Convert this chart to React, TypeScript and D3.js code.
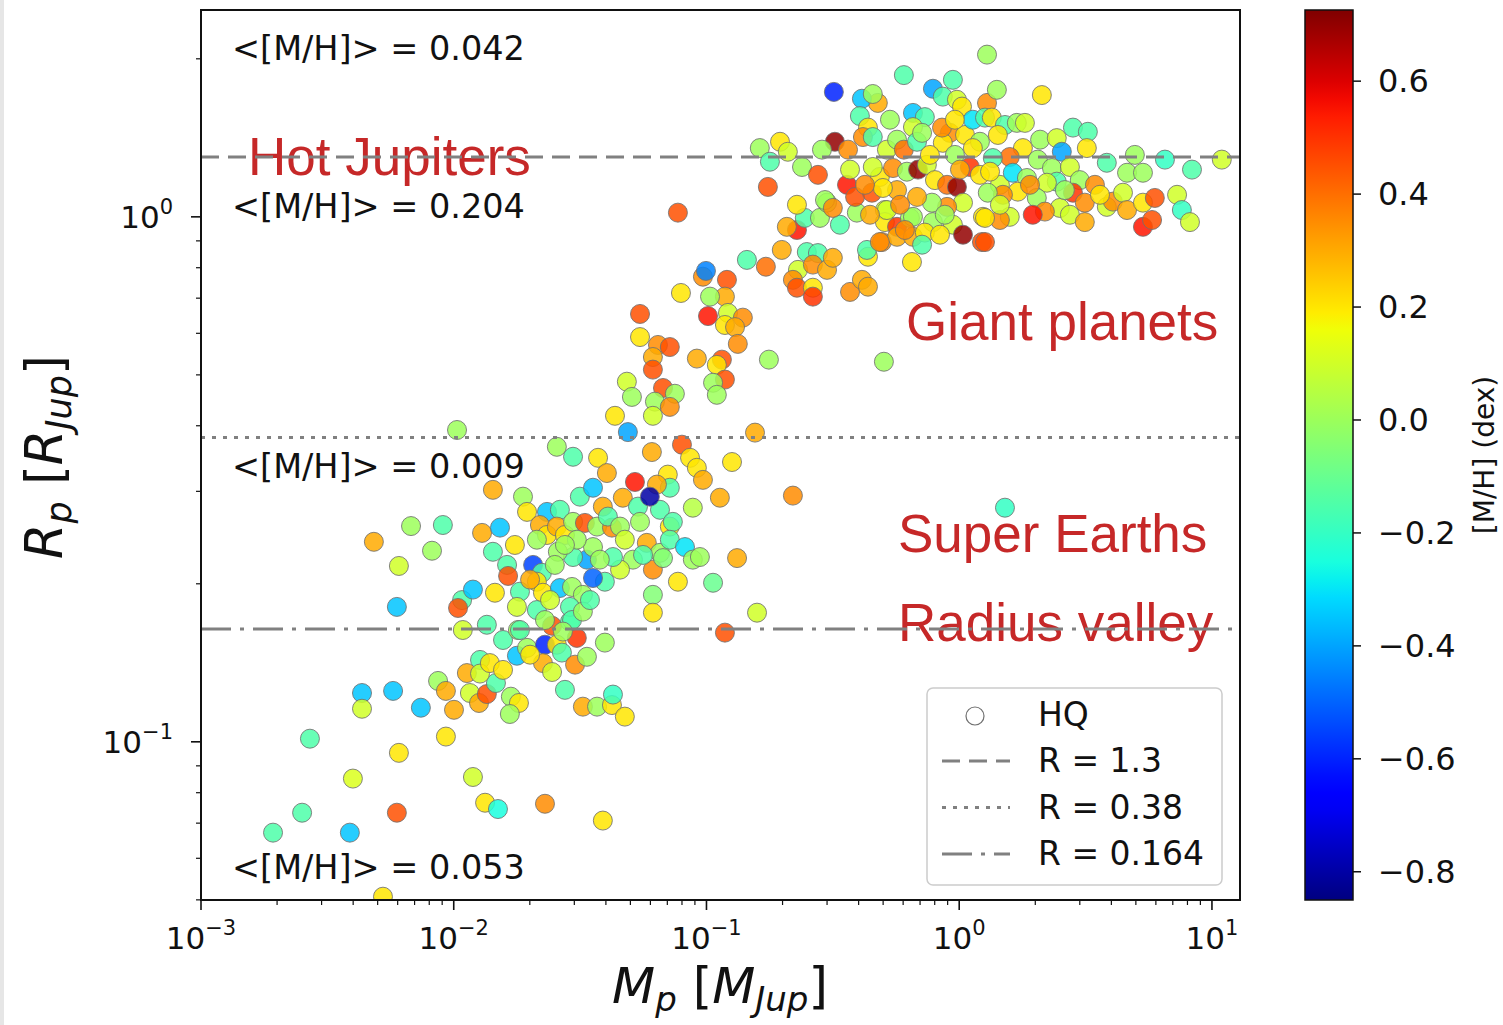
import React from "react";
import * as d3 from "d3";

// Each planet: [log10 Mp (MJup), log10 Rp (RJup), [M/H] (dex)]
const smallPlanets: [number, number, number][] = [
  [-2.363, -0.907, -0.35], [-2.363, -0.937, 0.1], [-2.24, -0.903, -0.35], [-2.13, -0.935, -0.35],
  [-2.569, -0.994, -0.15], [-2.031, -0.99, 0.2], [-2.217, -1.021, 0.2], [-2.399, -1.07, 0.12],
  [-2.6, -1.135, -0.15], [-2.715, -1.173, -0.15], [-2.411, -1.173, -0.35], [-2.225, -1.135, 0.45],
  [-1.924, -1.067, 0.1], [-1.876, -1.116, 0.2], [-1.825, -1.128, -0.25], [-1.639, -1.118, 0.35],
  [-1.41, -1.15, 0.2], [-2.28, -1.295, 0.2], [-2.062, -0.884, 0.0], [-2.031, -0.903, 0.3],
  [-1.999, -0.939, 0.3], [-1.936, -0.907, 0.1], [-1.9, -0.926, 0.3], [-1.869, -0.909, 0.45],
  [-1.833, -0.888, -0.15], [-1.774, -0.914, 0.0], [-1.742, -0.926, 0.2], [-1.778, -0.947, 0.0],
  [-1.896, -0.844, -0.15], [-1.948, -0.869, 0.3], [-1.896, -0.87, 0.1], [-1.857, -0.85, 0.2],
  [-1.805, -0.863, 0.2], [-1.75, -0.836, -0.35], [-1.805, -0.806, -0.15], [-1.71, -0.821, 0.0],
  [-1.639, -0.815, -0.6], [-1.592, -0.815, 0.2], [-1.647, -0.85, 0.3], [-1.611, -0.867, 0.1],
  [-1.572, -0.83, -0.15], [-1.52, -0.853, 0.35], [-1.513, -0.802, 0.5], [-1.473, -0.838, 0.0],
  [-1.402, -0.811, 0.0], [-1.489, -0.933, 0.3], [-1.433, -0.933, 0.0], [-1.374, -0.93, 0.2],
  [-1.37, -0.91, -0.2], [-1.323, -0.952, 0.2], [-1.964, -0.787, 0.1], [-1.869, -0.777, -0.15],
  [-1.746, -0.787, 0.0], [-1.611, -0.779, 0.45], [-1.54, -0.771, -0.15], [-2.316, -0.619, 0.3],
  [-2.169, -0.589, 0.0], [-2.043, -0.587, -0.15], [-2.086, -0.636, 0.0], [-2.217, -0.665, 0.1],
  [-2.225, -0.743, -0.35], [-1.987, -0.406, 0.0], [-1.698, -0.834, 0.2], [-1.56, -0.901, -0.15],
];

const superEarthCluster: [number, number, number][] = [
  [-1.845, -0.52, 0.3], [-1.726, -0.533, 0.0], [-1.71, -0.562, 0.2], [-1.631, -0.562, -0.35],
  [-1.58, -0.558, -0.15], [-1.659, -0.587, 0.3], [-1.631, -0.606, 0.2], [-1.592, -0.59, 0.3],
  [-1.56, -0.606, 0.2], [-1.528, -0.581, 0.0], [-1.481, -0.583, 0.45], [-1.433, -0.59, 0.0],
  [-1.374, -0.592, 0.35], [-1.501, -0.533, -0.15], [-1.449, -0.516, -0.35], [-1.41, -0.552, 0.3],
  [-1.39, -0.571, -0.15], [-1.342, -0.59, 0.0], [-1.331, -0.535, 0.3], [-1.283, -0.505, 0.55],
  [-1.271, -0.552, -0.15], [-1.184, -0.558, -0.15], [-1.153, -0.491, 0.2], [-1.145, -0.516, -0.15],
  [-1.196, -0.51, 0.3], [-1.224, -0.533, -0.8], [-1.263, -0.581, 0.0], [-1.145, -0.59, 0.2],
  [-1.133, -0.581, -0.15], [-1.236, -0.621, 0.3], [-1.184, -0.64, 0.0], [-1.145, -0.615, -0.15],
  [-1.085, -0.629, -0.3], [-1.054, -0.653, 0.0], [-1.212, -0.672, 0.35], [-1.113, -0.695, 0.2],
  [-1.212, -0.72, -0.05], [-1.212, -0.754, 0.2], [-1.291, -0.653, 0.0], [-1.342, -0.672, 0.1],
  [-1.37, -0.648, -0.15], [-1.402, -0.695, -0.15], [-1.449, -0.688, -0.5], [-1.473, -0.653, -0.4],
  [-1.449, -0.629, 0.0], [-1.528, -0.648, -0.15], [-1.513, -0.615, 0.0], [-1.588, -0.638, 0.0],
  [-1.671, -0.615, 0.0], [-1.686, -0.663, -0.55], [-1.651, -0.678, -0.15], [-1.671, -0.695, 0.2],
  [-1.647, -0.716, 0.2], [-1.738, -0.714, -0.15], [-1.75, -0.743, 0.1], [-1.671, -0.749, -0.15],
  [-1.58, -0.707, -0.35], [-1.532, -0.705, 0.0], [-1.489, -0.72, 0.0], [-1.54, -0.743, -0.15],
  [-1.532, -0.768, -0.15], [-1.738, -0.787, -0.15], [-1.789, -0.663, -0.15], [-1.785, -0.684, 0.45],
  [-1.845, -0.638, -0.15], [-1.888, -0.602, 0.3], [-1.817, -0.592, -0.35], [-1.967, -0.73, -0.15],
  [-1.983, -0.745, 0.45], [-1.924, -0.71, -0.35], [-1.837, -0.716, 0.2], [-1.568, -0.79, 0.0],
  [-1.56, -0.625, 0.0], [-1.619, -0.73, 0.1], [-1.698, -0.691, 0.3], [-1.489, -0.752, 0.0],
  [-1.6, -0.663, 0.0], [-1.461, -0.73, -0.15], [-1.323, -0.615, 0.1], [-1.422, -0.653, 0.0],
  [-1.758, -0.625, 0.2], [-1.639, -0.768, 0.0],
  [-1.311, -0.41, -0.4], [-0.808, -0.411, 0.3], [-1.592, -0.438, 0.0], [-1.528, -0.457, -0.15],
  [-1.429, -0.459, 0.2], [-1.394, -0.488, 0.3], [-1.216, -0.448, 0.3], [-1.097, -0.434, 0.45],
  [-1.065, -0.459, 0.2], [-1.038, -0.478, 0.2], [-1.014, -0.501, 0.3], [-0.899, -0.467, 0.2],
  [-0.947, -0.535, 0.3], [-1.054, -0.554, 0.05], [-0.879, -0.65, 0.3], [-0.974, -0.697, -0.1],
  [-0.8, -0.754, 0.1], [-0.927, -0.792, 0.45], [-1.026, -0.648, 0.0], [-1.172, -0.65, -0.05],
  [-1.251, -0.644, -0.15], [-0.658, -0.531, 0.35],
];

const transitionPlanets: [number, number, number][] = [
  [-1.113, 0.008, 0.45], [-1.014, -0.114, 0.35], [-1.002, -0.103, -0.45], [-0.919, -0.12, 0.45],
  [-0.927, -0.152, 0.3], [-0.986, -0.152, 0.0], [-1.101, -0.145, 0.2], [-1.263, -0.185, 0.45],
  [-0.994, -0.189, 0.55], [-0.915, -0.183, 0.1], [-0.856, -0.192, 0.35], [-0.927, -0.206, 0.2],
  [-0.887, -0.21, 0.3], [-0.876, -0.242, 0.35], [-1.263, -0.229, 0.2], [-1.192, -0.244, 0.35],
  [-1.145, -0.248, 0.45], [-1.212, -0.267, 0.3], [-1.212, -0.291, 0.45], [-1.038, -0.27, 0.3],
  [-0.939, -0.272, 0.45], [-0.959, -0.282, 0.2], [-0.927, -0.31, 0.45], [-0.974, -0.316, 0.0],
  [-0.959, -0.339, 0.0], [-0.753, -0.272, 0.0], [-0.298, -0.276, 0.0], [-1.315, -0.314, 0.1],
  [-1.295, -0.343, 0.0], [-1.172, -0.326, 0.45], [-1.125, -0.337, 0.0], [-1.204, -0.352, 0.0],
  [-1.145, -0.362, 0.35], [-1.212, -0.379, 0.1], [-1.362, -0.379, 0.2], [-0.84, -0.082, -0.15],
  [-0.765, -0.095, 0.4], [-0.702, -0.063, 0.3], [-0.638, -0.101, 0.1], [-0.603, -0.067, -0.15],
  [-0.559, -0.069, -0.15], [-0.579, -0.091, 0.35], [-0.523, -0.101, 0.3], [-0.5, -0.078, 0.3],
  [-0.658, -0.12, 0.35], [-0.642, -0.135, 0.45], [-0.579, -0.135, 0.2], [-0.579, -0.152, 0.5],
  [-0.432, -0.143, 0.35], [-0.385, -0.12, 0.3], [-0.361, -0.133, 0.3], [-0.361, -0.076, 0.2],
  [-0.365, -0.063, -0.15], [-0.306, -0.048, 0.35], [-0.405, 0.008, 0.0], [-0.294, 0.013, 0.1],
  [-0.294, -0.01, 0.2], [-0.246, -0.019, 0.5], [-0.246, -0.038, 0.3], [-0.195, -0.002, 0.0],
  [-0.187, -0.086, 0.2], [-0.183, -0.038, 0.3], [-0.642, -0.025, 0.55], [-0.682, -0.019, 0.3],
  [-0.611, -0.002, -0.15], [-0.551, -0.002, 0.0], [-0.642, 0.023, 0.2], [-0.523, 0.027, 0.0],
  [-0.472, -0.015, -0.15],
];

const giantsInner: [number, number, number][] = [
  [-0.496, 0.238, -0.6], [-0.322, 0.217, 0.3], [-0.385, 0.225, -0.35], [-0.342, 0.234, 0.0],
  [-0.219, 0.27, -0.15], [-0.104, 0.244, -0.4], [-0.025, 0.261, -0.15], [-0.065, 0.229, -0.15],
  [-0.009, 0.223, 0.1], [0.011, 0.21, 0.2], [0.11, 0.217, 0.35], [0.11, 0.309, 0.0],
  [-0.393, 0.192, -0.15], [-0.183, 0.198, -0.35], [-0.136, 0.19, -0.15], [-0.183, 0.171, 0.1],
  [-0.361, 0.17, 0.2], [-0.381, 0.152, 0.35], [-0.342, 0.152, -0.15], [-0.492, 0.143, 0.7],
  [-0.44, 0.128, 0.35], [-0.543, 0.128, 0.0], [-0.709, 0.143, 0.2], [-0.678, 0.124, 0.1],
  [-0.789, 0.131, 0.0], [-0.749, 0.105, -0.15], [-0.622, 0.095, 0.0], [-0.559, 0.08, 0.45],
  [-0.757, 0.057, 0.45], [-0.531, 0.032, 0.0], [-0.5, 0.017, 0.35], [-0.444, 0.061, 0.55],
  [-0.412, 0.038, 0.45], [-0.345, 0.046, 0.45], [-0.314, 0.076, 0.2], [-0.342, 0.095, 0.1],
  [-0.286, 0.128, 0.1], [-0.246, 0.147, 0.0], [-0.219, 0.128, 0.4], [-0.167, 0.143, -0.15],
  [-0.147, 0.16, 0.0], [-0.262, 0.093, 0.35], [-0.207, 0.086, 0.0], [-0.163, 0.09, 0.7],
  [-0.128, 0.099, 0.1], [-0.096, 0.07, 0.2], [-0.048, 0.061, 0.4], [-0.009, 0.057, 0.7],
  [0.042, 0.095, 0.5], [0.082, 0.08, 0.2], [0.015, 0.027, 0.1], [-0.048, 0.019, 0.35],
  [-0.108, 0.027, 0.0], [-0.167, 0.038, 0.3], [-0.246, 0.051, 0.3], [-0.302, 0.055, 0.2],
  [-0.286, 0.013, 0.1], [-0.183, 0.0, 0.0], [-0.104, -0.01, 0.0], [-0.136, -0.03, 0.2],
  [-0.147, -0.053, -0.15], [-0.025, -0.015, 0.1], [0.015, -0.034, 0.7], [0.09, -0.048, 0.45],
  [0.094, 0.0, 0.2], [-0.314, -0.048, 0.35], [-0.037, 0.16, 0.35], [-0.065, 0.141, 0.2],
  [0.023, 0.156, 0.2], [0.082, 0.143, 0.0], [0.054, 0.185, -0.3], [0.102, 0.189, -0.15],
  [0.054, 0.131, 0.2], [-0.068, 0.17, 0.35], [-0.017, 0.118, 0.0], [0.003, 0.09, 0.3],
  [0.161, 0.061, 0.1], [0.32, 0.147, 0.0], [-0.234, 0.023, 0.35], [-0.076, -0.034, 0.2],
  [-0.353, 0.004, 0.3], [-0.274, 0.185, 0.0], [-0.116, 0.118, 0.2], [-0.215, -0.025, 0.35],
  [-0.057, 0.004, 0.0], [-0.432, 0.09, 0.1], [-0.373, 0.061, 0.35], [-0.017, 0.185, 0.2],
];

const giantsOuter: [number, number, number][] = [
  [0.327, 0.232, 0.2], [0.149, 0.242, 0.0], [0.129, 0.189, 0.2], [0.181, 0.175, -0.15],
  [0.228, 0.179, 0.0], [0.26, 0.179, 0.1], [0.153, 0.156, 0.2], [0.252, 0.131, 0.2],
  [0.386, 0.15, 0.1], [0.45, 0.17, -0.15], [0.509, 0.162, -0.15], [0.406, 0.124, -0.4],
  [0.505, 0.131, 0.2], [0.2, 0.114, 0.4], [0.133, 0.112, -0.15], [0.311, 0.109, 0.0],
  [0.584, 0.103, -0.15], [0.695, 0.118, 0.0], [0.814, 0.109, -0.2], [1.039, 0.109, 0.1],
  [0.664, 0.084, 0.0], [0.727, 0.084, 0.0], [0.921, 0.09, -0.15], [0.122, 0.086, 0.2],
  [0.212, 0.084, -0.3], [0.268, 0.074, 0.0], [0.367, 0.093, 0.0], [0.438, 0.095, 0.1],
  [0.386, 0.067, -0.15], [0.347, 0.065, 0.1], [0.477, 0.07, 0.0], [0.537, 0.061, 0.35],
  [0.45, 0.046, 0.5], [0.497, 0.027, 0.35], [0.232, 0.048, 0.2], [0.173, 0.042, 0.35],
  [0.113, 0.046, 0.0], [0.307, 0.036, 0.0], [0.398, 0.017, 0.1], [0.339, 0.01, 0.35],
  [0.291, 0.004, 0.55], [0.2, 0.0, 0.1], [0.161, -0.006, 0.35], [0.102, -0.002, 0.2],
  [0.438, 0.004, 0.1], [0.497, -0.01, 0.3], [0.102, -0.048, 0.45], [0.584, 0.019, 0.1],
  [0.608, 0.029, 0.35], [0.648, 0.046, 0.1], [0.664, 0.013, 0.3], [0.727, 0.027, 0.2],
  [0.774, 0.036, 0.45], [0.727, -0.019, 0.55], [0.763, -0.006, 0.45], [0.862, 0.042, 0.1],
  [0.881, 0.013, -0.2], [0.913, -0.01, 0.1], [0.181, -0.554, -0.2], [0.161, 0.023, 0.1],
  [0.28, 0.061, 0.35], [0.418, 0.051, 0.0], [0.557, 0.042, 0.2],
];

const refRadii = [1.3, 0.38, 0.164];
const refDash = ["18,9", "4,7", "30,9,4,9"];
const legendLabels = ["R = 1.3", "R = 0.38", "R = 0.164"];
const meanMH = ["0.042", "0.204", "0.009", "0.053"];
const regionLabels = ["Hot Jupiters", "Giant planets", "Super Earths", "Radius valley"];
const xMajor = [-3, -2, -1, 0, 1];
const yMajor = [0, -1];
const cbarTicks = [0.6, 0.4, 0.2, 0.0, -0.2, -0.4, -0.6, -0.8];

const MH_MIN = -0.85;
const MH_MAX = 0.726;

function piece(pts: number[][], t: number) {
  for (let i = 1; i < pts.length; i++) {
    if (t <= pts[i][0]) {
      const [x0, y0] = pts[i - 1];
      const [x1, y1] = pts[i];
      return y0 + ((y1 - y0) * (t - x0)) / (x1 - x0);
    }
  }
  return pts[pts.length - 1][1];
}
function jet(t: number) {
  const tt = Math.max(0, Math.min(1, t));
  const r = piece([[0, 0], [0.35, 0], [0.66, 1], [0.89, 1], [1, 0.5]], tt);
  const g = piece([[0, 0], [0.125, 0], [0.375, 1], [0.64, 1], [0.91, 0], [1, 0]], tt);
  const b = piece([[0, 0.5], [0.11, 1], [0.34, 1], [0.65, 0], [1, 0]], tt);
  return d3.rgb(r * 255, g * 255, b * 255).formatHex();
}

const FONT = "DejaVu Sans, sans-serif";

export default function App() {
  const L = 201, R = 1240, T = 10, B = 900;
  const x = d3.scaleLog().domain([1e-3, Math.pow(10, 1.111)]).range([L, R]);
  const y = d3.scaleLog().domain([Math.pow(10, -1.3013), Math.pow(10, 0.394)]).range([B, T]);
  const norm = d3.scaleLinear().domain([MH_MIN, MH_MAX]).range([0, 1]).clamp(true);
  const cbX = 1305, cbW = 48;
  const cy = d3.scaleLinear().domain([MH_MIN, MH_MAX]).range([B, T]);

  const all = [...smallPlanets, ...superEarthCluster, ...transitionPlanets, ...giantsInner, ...giantsOuter];

  const xMinor: number[] = [];
  for (let e = -3; e <= 1; e++) for (let k = 2; k <= 9; k++) {
    const v = k * Math.pow(10, e);
    if (v < x.domain()[1]) xMinor.push(v);
  }
  const yMinor: number[] = [];
  for (let e = -2; e <= 0; e++) for (let k = 2; k <= 9; k++) {
    const v = k * Math.pow(10, e);
    if (v >= y.domain()[0] - 1e-9 && v <= y.domain()[1]) yMinor.push(v);
  }

  const stops = d3.range(0, 1.0001, 0.02);
  const supLabel = (e: number) => (e < 0 ? "\u2212" + Math.abs(e) : String(e));

  const annY = [60, 218, 478, 879];
  const labelPos = [[248, 175], [906, 340], [898, 552], [898, 641]];

  return (
    <svg width={1503} height={1025} style={{ position: "absolute", left: 0, top: 0, background: "#fff" }}>
      <defs>
        <clipPath id="axclip"><rect x={L} y={T} width={R - L} height={B - T} /></clipPath>
        <linearGradient id="jetgrad" x1="0" y1="1" x2="0" y2="0">
          {stops.map((s, i) => <stop key={i} offset={s} stopColor={jet(s)} />)}
        </linearGradient>
      </defs>
      <rect x={0} y={0} width={1503} height={1025} fill="#fff" />
      <rect x={0} y={0} width={4} height={1025} fill="#e6e6e6" />

      <g clipPath="url(#axclip)">
        {all.map((p, i) => (
          <circle key={i} cx={x(Math.pow(10, p[0]))} cy={y(Math.pow(10, p[1]))} r={9.5}
            fill={jet(norm(p[2]))} fillOpacity={0.85} stroke="#707070" strokeOpacity={0.85} strokeWidth={1} />
        ))}
      </g>

      {meanMH.map((m, i) => (
        <text key={i} x={232} y={annY[i]} fontFamily={FONT} fontSize={33.5} fill="#111">{"<[M/H]> = " + m}</text>
      ))}

      {regionLabels.map((s, i) => (
        <text key={i} x={labelPos[i][0]} y={labelPos[i][1]} fontFamily="Liberation Sans, Arial, sans-serif" fontSize={53} fill="#c62828">{s}</text>
      ))}

      {refRadii.map((r, i) => (
        <line key={i} x1={L} x2={R} y1={y(r)} y2={y(r)} stroke="#808080" strokeWidth={3} strokeDasharray={refDash[i]} />
      ))}

      <rect x={L} y={T} width={R - L} height={B - T} fill="none" stroke="#111" strokeWidth={2} />

      {xMajor.map((e) => (
        <g key={"xM" + e}>
          <line x1={x(Math.pow(10, e))} x2={x(Math.pow(10, e))} y1={B} y2={B + 10} stroke="#111" strokeWidth={1.6} />
          <text x={x(Math.pow(10, e))} y={949} textAnchor="middle" fontFamily={FONT} fontSize={31} fill="#111">
            10<tspan fontSize={21} dy={-14}>{supLabel(e)}</tspan>
          </text>
        </g>
      ))}
      {xMinor.map((v, i) => (
        <line key={"xm" + i} x1={x(v)} x2={x(v)} y1={B} y2={B + 5} stroke="#111" strokeWidth={1.2} />
      ))}

      {yMajor.map((e) => (
        <g key={"yM" + e}>
          <line x1={L - 10} x2={L} y1={y(Math.pow(10, e))} y2={y(Math.pow(10, e))} stroke="#111" strokeWidth={1.6} />
          <text x={173} y={y(Math.pow(10, e)) + 11} textAnchor="end" fontFamily={FONT} fontSize={31} fill="#111">
            10<tspan fontSize={21} dy={-14}>{supLabel(e)}</tspan>
          </text>
        </g>
      ))}
      {yMinor.map((v, i) => (
        <line key={"ym" + i} x1={L - 5} x2={L} y1={y(v)} y2={y(v)} stroke="#111" strokeWidth={1.2} />
      ))}

      <text x={720} y={1003} textAnchor="middle" fontFamily={FONT} fontSize={50} fill="#111">
        <tspan fontStyle="italic">M</tspan>
        <tspan fontStyle="italic" fontSize={34} dy={8}>p</tspan>
        <tspan dy={-8}> [</tspan>
        <tspan fontStyle="italic">M</tspan>
        <tspan fontStyle="italic" fontSize={34} dy={8}>Jup</tspan>
        <tspan dy={-8}>]</tspan>
      </text>
      <text transform="translate(62,457) rotate(-90)" textAnchor="middle" fontFamily={FONT} fontSize={51} fill="#111">
        <tspan fontStyle="italic">R</tspan>
        <tspan fontStyle="italic" fontSize={35} dy={9}>p</tspan>
        <tspan dy={-9}> [</tspan>
        <tspan fontStyle="italic">R</tspan>
        <tspan fontStyle="italic" fontSize={35} dy={9}>Jup</tspan>
        <tspan dy={-9}>]</tspan>
      </text>

      <g>
        <rect x={927} y={688} width={295} height={197} rx={6} fill="#fff" fillOpacity={0.85} stroke="#cccccc" strokeWidth={1.5} />
        <circle cx={975} cy={716} r={9} fill="#fff" stroke="#707070" strokeWidth={1.2} />
        <text x={1038} y={726} fontFamily={FONT} fontSize={33} fill="#111">HQ</text>
        {legendLabels.map((s, i) => (
          <g key={i}>
            <line x1={942} x2={1010} y1={761 + i * 46.5} y2={761 + i * 46.5} stroke="#808080" strokeWidth={3} strokeDasharray={refDash[i]} />
            <text x={1038} y={772 + i * 46.5} fontFamily={FONT} fontSize={33} fill="#111">{s}</text>
          </g>
        ))}
      </g>

      <rect x={cbX} y={T} width={cbW} height={B - T} fill="url(#jetgrad)" stroke="#111" strokeWidth={1.5} />
      {cbarTicks.map((v, i) => (
        <g key={i}>
          <line x1={cbX + cbW} x2={cbX + cbW + 8} y1={cy(v)} y2={cy(v)} stroke="#111" strokeWidth={1.5} />
          <text x={1378} y={cy(v) + 11} fontFamily={FONT} fontSize={32} fill="#111">
            {(v < 0 ? "\u2212" : "") + Math.abs(v).toFixed(1)}
          </text>
        </g>
      ))}
      <text transform="translate(1494,455) rotate(-90)" textAnchor="middle" fontFamily={FONT} fontSize={28} fill="#111">[M/H] (dex)</text>
    </svg>
  );
}
